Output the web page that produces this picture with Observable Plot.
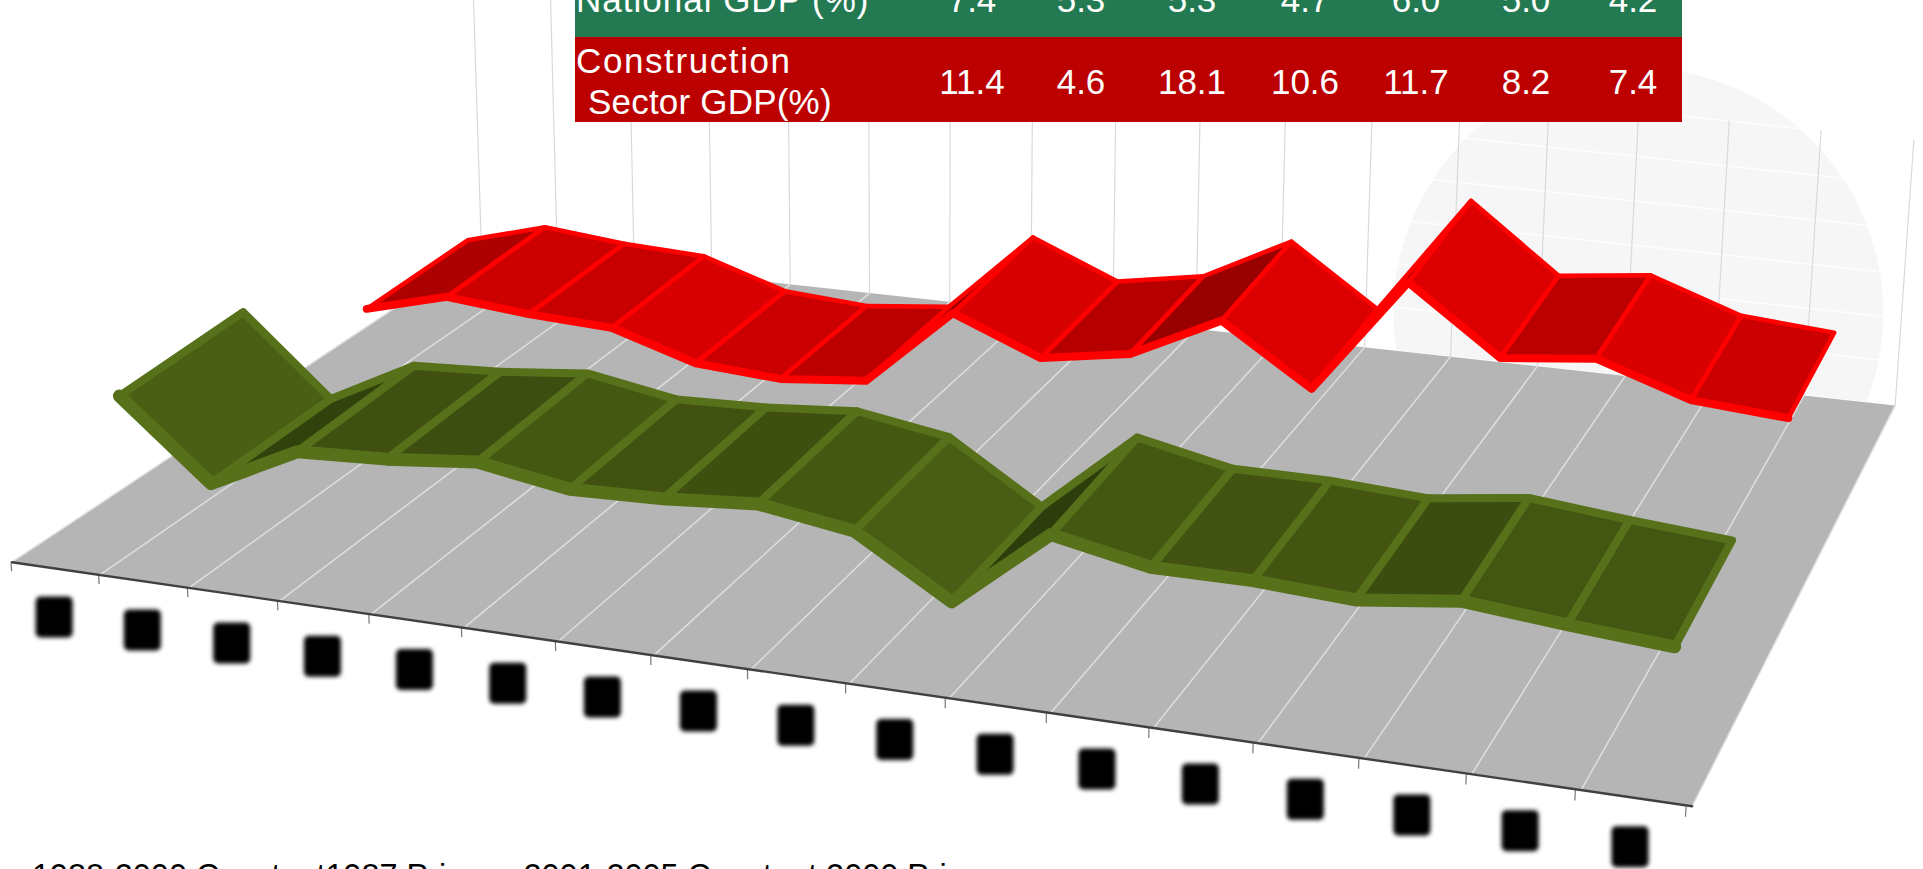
<!DOCTYPE html>
<html><head><meta charset="utf-8">
<script src="https://cdn.jsdelivr.net/npm/d3@7"></script>
<script src="https://cdn.jsdelivr.net/npm/@observablehq/plot@0.6"></script>
<style>
html,body{margin:0;padding:0;background:#fff;width:1923px;height:869px;overflow:hidden;font-family:"Liberation Sans",Arial,sans-serif}
#wrap{position:relative;width:1923px;height:869px;overflow:hidden}
#chart{position:absolute;left:0;top:0}
.blob{filter:blur(2px)}
#table{position:absolute;left:575px;top:0;width:1107px;height:122px;color:#fff;font-size:35px;overflow:hidden}
#table .g{position:absolute;left:0;top:0;width:100%;height:37px;background:#237a52}
#table .r{position:absolute;left:0;top:37px;width:100%;height:85px;background:#bc0000}
#table span{position:absolute;white-space:pre;line-height:1}
#caption{position:absolute;left:32px;top:860px;font-size:32.4px;color:#000;white-space:pre;line-height:1}
</style></head><body>
<div id="wrap"><div id="chart"></div><div id="table"></div><div id="caption"></div></div>
<script>
// ---- data ----
const years = [1989,1990,1991,1992,1993,1994,1995,1996,1997,1998,1999,2000,2001,2002,2003,2004,2005];
const nationalGDP = [9.5,0.7,5.7,6.2,7.2,5.5,5.8,6.6,5.0,-1.3,7.4,5.3,5.3,4.7,6.0,5.0,4.2];
const constructionGDP = [1.1,3.8,2.8,2.3,-0.9,-1.6,-0.6,8.8,4.6,6.3,11.4,4.6,18.1,10.6,11.7,8.2,7.4];
const tableValuesNational = [7.4,5.3,5.3,4.7,6.0,5.0,4.2];
const tableValuesConstruction = [11.4,4.6,18.1,10.6,11.7,8.2,7.4];
const wallValues = [-5,0,5,10,15,20,25];
const captionText = "1988-2000 Constant1987 Prices ; 2001-2005 Constant 2000 Prices";

// ---- 3-D view of the chart box ----
const floorValue = -5, S = 8.8, backBoost = 1.05;
const V = [923, 14170], tau = S / 13800;
const a=1441.1,b=569.9,c=11.5,d=130.2,e=-259.5,f=561.7,g=-0.1413,h=0.2088;
const depthOf = {green:[0.13,0.372], red:[0.632,0.872]};
const uOf = t => t*1.0283/(1+0.0283*t);
const n = years.length;
function project(i, v, val){        // i = category position 0..n, v = depth 0..1
  const u = uOf(i/n);
  const k = -(val-floorValue)*tau;
  const W = g*u+h*v+1+k;
  return {x:(a*u+b*v+c+k*V[0])/W, y:(d*u+e*v+f+k*V[1])/W};
}
const edges = d3.range(n+1);
const wallStretch = i => 1.16-0.105*i/n;
const wallPoint = (i,val) => project(i,1,floorValue+(val-floorValue)*wallStretch(i));
const labelShift = i => -1-5*i/n;

// ---- geometry rows ----
const floor = [[0,0],[n,0],[n,1],[0,1],[0,0]].map(([i,v])=>project(i,v,floorValue));
const grid = edges.flatMap(i=>[{id:i,...project(i,0,floorValue)},{id:i,...project(i,1,floorValue)}]);
const ticks = edges.map(i=>{const p=project(i,0,floorValue),q=project(i,0,floorValue-1.05),s=labelShift(i);return {x1:p.x+s,y1:p.y,x2:q.x+s,y2:q.y}});
const wallV = edges.flatMap(i=>[{id:i,...project(i,1,floorValue)},{id:i,...wallPoint(i,25)}]);
const wallH = wallValues.flatMap(w=>[0,n].map(i=>({id:w,...wallPoint(i,w)})));
const frontEdge = [project(0,0,floorValue),project(n,0,floorValue)];
const blobs = years.map((yr,i)=>{const p=project(i+.5,0,floorValue),s=labelShift(i+.5);return {year:yr,x1:p.x+s-18.5,x2:p.x+s+18.5,y1:p.y+28.5,y2:p.y+69.5}});

const redShade = d3.scaleLinear([-7,-3,-0.8,1.1,5,14],["#dc0000","#d80000","#cc0000","#bb0000","#990000","#880000"]).clamp(true);
const greenShade = d3.scaleLinear([-7,-1,0.5,3,7],["#4a5e14","#445712","#3f5010","#36470e","#2e3d0c"]).clamp(true);

function ribbon(vals, depth, shade){
  const panels=[];
  const back=v=>floorValue+(v-floorValue)*backBoost;
  for(let i=0;i<vals.length-1;i++){
    const s=shade(vals[i+1]-vals[i]);
    const pts=[project(i+.5,depth[0],vals[i]),project(i+1.5,depth[0],vals[i+1]),project(i+1.5,depth[1],back(vals[i+1])),project(i+.5,depth[1],back(vals[i]))];
    [...pts,pts[0]].forEach(p=>panels.push({panel:i,shade:s,...p}));
  }
  const front=vals.map((v,i)=>project(i+.5,depth[0],v));
  return {panels,front};
}
const redR=ribbon(constructionGDP,depthOf.red,redShade);
const greenR=ribbon(nationalGDP,depthOf.green,greenShade);
const disc=[project(n*.83,1,2.9)];

const plot=Plot.plot({
  width:1923,height:869,margin:0,
  x:{domain:[0,1923],range:[0,1923],axis:null},
  y:{domain:[0,869],range:[0,869],axis:null},
  color:{type:"identity"},
  marks:[
    Plot.dot(disc,{x:"x",y:"y",r:245,fill:"#f6f6f6",stroke:"none"}),
    Plot.line(wallH,{x:"x",y:"y",z:"id",stroke:"#ffffff",strokeWidth:1.5,strokeOpacity:0.8}),
    Plot.line(wallV,{x:"x",y:"y",z:"id",stroke:"#d9d9d9",strokeWidth:1.2}),
    Plot.line(floor,{x:"x",y:"y",fill:"#b5b5b5",stroke:"none"}),
    Plot.line(grid,{x:"x",y:"y",z:"id",stroke:"#dedede",strokeWidth:1.5}),
    Plot.link(ticks,{x1:"x1",y1:"y1",x2:"x2",y2:"y2",stroke:"#777",strokeWidth:1.2}),
    Plot.line(frontEdge,{x:"x",y:"y",stroke:"#404040",strokeWidth:2.4}),
    Plot.rect(blobs,{x1:"x1",x2:"x2",y1:"y1",y2:"y2",fill:"#000",rx:5,className:"blob"}),
    Plot.line(greenR.panels,{x:"x",y:"y",z:"panel",fill:"shade",stroke:"#56711a",strokeWidth:8,strokeLinejoin:"round"}),
    Plot.line(greenR.front,{x:"x",y:"y",stroke:"#56711a",strokeWidth:13,strokeLinejoin:"round",strokeLinecap:"round"}),
    Plot.line(redR.panels,{x:"x",y:"y",z:"panel",fill:"shade",stroke:"#ff0000",strokeWidth:4.5,strokeLinejoin:"round"}),
    Plot.line(redR.front,{x:"x",y:"y",stroke:"#ff0000",strokeWidth:8,strokeLinejoin:"round",strokeLinecap:"round"})
  ]
});
document.getElementById("chart").append(plot);

// ---- table and caption (real text, clipped by the page like the picture) ----
const colCentres=[397,506,617,730,841,951,1058];
const tbl=document.getElementById("table");
tbl.innerHTML='<div class="g"></div><div class="r"></div>';
function put(txt,left,base,opts={}){
  const s=document.createElement("span");s.textContent=txt;
  s.style.left=left+"px";s.style.top=(base-29)+"px";
  if(opts.center) s.style.transform="translateX(-50%)";
  if(opts.ls) s.style.letterSpacing=opts.ls+"px";
  tbl.append(s);
}
put("National GDP (%)",1,10.5,{ls:1});
tableValuesNational.forEach((v,i)=>put(v.toFixed(1),colCentres[i],10.5,{center:true}));
put("Construction",1,72,{ls:1.6});
put("Sector GDP(%)",13,113,{ls:0.2});
tableValuesConstruction.forEach((v,i)=>put(v.toFixed(1),colCentres[i],93,{center:true}));
document.getElementById("caption").textContent=captionText;
</script>
</body></html>
